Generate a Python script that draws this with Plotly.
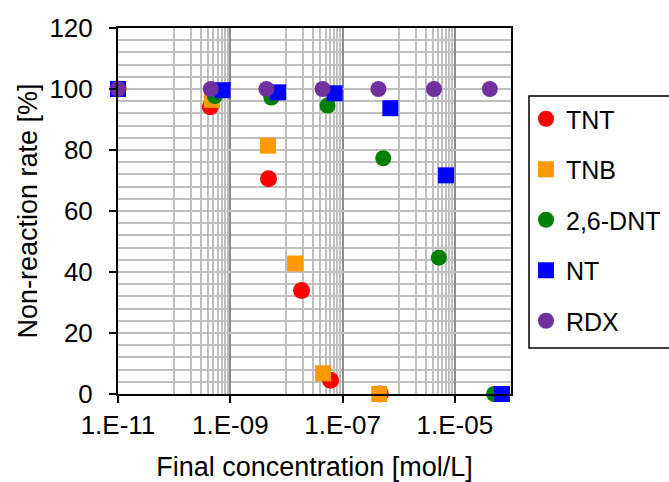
import plotly.graph_objects as go

# ---- data ----
tnt_x = [1e-11, 4.4e-10, 4.8e-9, 1.86e-8, 6.1e-8, 4.7e-7]
tnt_y = [100, 94.2, 70.6, 33.9, 4.5, 0]

tnb_x = [1e-11, 4.7e-10, 4.7e-9, 1.43e-8, 4.5e-8, 4.5e-7]
tnb_y = [100, 96.4, 81.4, 42.8, 6.8, 0]

dnt_x = [1e-11, 5.3e-10, 5.4e-9, 5.4e-8, 5.3e-7, 5.2e-6, 5.0e-5]
dnt_y = [100, 97.7, 97.2, 94.6, 77.3, 44.7, 0]

nt_x = [1e-11, 7.3e-10, 7.1e-9, 7.2e-8, 7.1e-7, 6.95e-6, 6.9e-5]
nt_y = [100, 99.6, 98.9, 98.6, 93.7, 71.7, 0]

rdx_x = [1e-11, 4.5e-10, 4.4e-9, 4.4e-8, 4.35e-7, 4.25e-6, 4.2e-5]
rdx_y = [100, 100, 100, 100, 100, 100, 100]

x_tickvals = [1e-11, 1e-9, 1e-7, 1e-5]
x_ticktext = ["1.E-11", "1.E-09", "1.E-07", "1.E-05"]

series = [
    ("TNT", tnt_x, tnt_y, "circle", "#FF0000", 17),
    ("TNB", tnb_x, tnb_y, "square", "#FF9900", 16),
    ("2,6-DNT", dnt_x, dnt_y, "circle", "#008000", 16),
    ("NT", nt_x, nt_y, "square", "#0000FF", 16),
    ("RDX", rdx_x, rdx_y, "circle", "#7030A0", 16),
]

# minor grid positions (Excel-style, base-100 major unit)
minor_x = [k * 10.0 ** e for e in (-10, -8, -6) for k in range(1, 10)]

FONT = "Liberation Sans, Arial, sans-serif"
W, H = 669, 482
ML, MR, MT, MB = 118, 158, 28, 88
PW, PH = W - ML - MR, H - MT - MB

fig = go.Figure()
for name, xs, ys, sym, col, sz in series:
    fig.add_trace(go.Scatter(
        x=xs, y=ys, mode="markers", name=name, legendgroup=name,
        marker=dict(symbol=sym, color=col, size=sz, line=dict(width=0)),
        cliponaxis=False,
    ))

# legend frame (drawn as a shape so its height matches the reference)
fig.add_shape(type="rect", xref="paper", yref="paper",
              x0=(529 - ML) / PW, x1=(700 - ML) / PW,
              y0=(H - MB - 348) / PH, y1=(H - MB - 96) / PH,
              line=dict(color="black", width=1.5), fillcolor="rgba(0,0,0,0)",
              layer="above")

fig.update_layout(
    width=W, height=H,
    margin=dict(l=ML, r=MR, t=MT, b=MB, autoexpand=False),
    paper_bgcolor="white", plot_bgcolor="white",
    font=dict(family=FONT, size=26, color="black"),
    showlegend=True,
    legend=dict(
        xref="container", x=526 / W, xanchor="left",
        yref="container", y=1 - 96 / H, yanchor="top",
        borderwidth=0, bgcolor="rgba(255,255,255,0)",
        font=dict(size=25), tracegroupgap=15, traceorder="grouped",
        maxheight=470,
    ),
    xaxis=dict(
        type="log", range=[-11, -4], automargin=False,
        tickmode="array", tickvals=x_tickvals, ticktext=x_ticktext,
        ticks="outside", ticklen=7, tickwidth=2, tickcolor="black",
        showline=True, linecolor="black", linewidth=2, mirror=True,
        showgrid=True, gridcolor="#8c8c8c", gridwidth=2,
        minor=dict(tickmode="array", tickvals=minor_x, showgrid=True,
                   gridcolor="#bfbfbf", gridwidth=1.5, ticks=""),
        zeroline=False,
        title=dict(text="Final concentration [mol/L]", font=dict(size=27), standoff=19),
        tickfont=dict(size=26),
    ),
    yaxis=dict(
        range=[0, 120], tickmode="linear", tick0=0, dtick=20, automargin=False,
        ticks="outside", ticklen=7, tickwidth=2, tickcolor="black",
        showline=True, linecolor="black", linewidth=2, mirror=True,
        showgrid=True, gridcolor="#bfbfbf", gridwidth=1.5,
        minor=dict(dtick=4, showgrid=True, gridcolor="#bfbfbf", gridwidth=1.5, ticks=""),
        zeroline=False, ticklabelstandoff=11,
        title=dict(text="Non-reaction rate [%]", font=dict(size=27), standoff=4),
        tickfont=dict(size=26),
    ),
)

fig.write_html("out.html", config={"displayModeBar": False},
               post_script="document.body.style.margin='0';")
